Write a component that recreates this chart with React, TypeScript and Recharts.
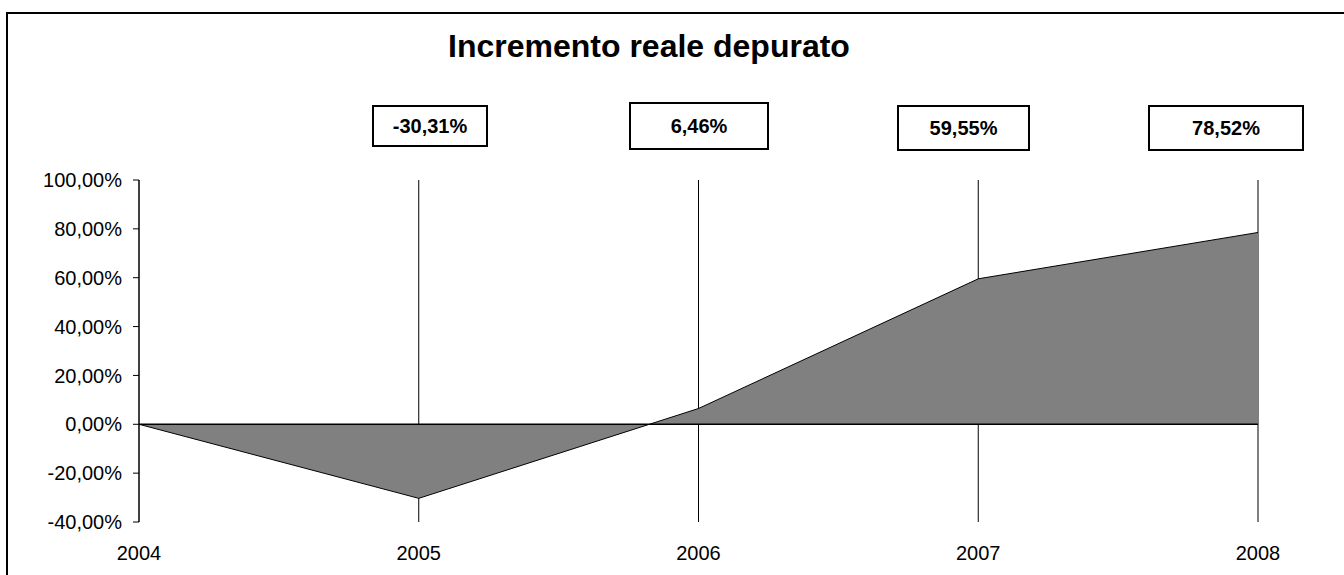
import { AreaChart, Area, XAxis, YAxis, CartesianGrid, ReferenceLine } from 'recharts';

const years = ['2004', '2005', '2006', '2007', '2008'];
const increments = [0, -30.31, 6.46, 59.55, 78.52];
const yTicks = [-40, -20, 0, 20, 40, 60, 80, 100];

// label boxes for 2005..2008 (page coords)
const boxLayout = [
    { left: 372, top: 105, width: 116, height: 42 },
    { left: 629, top: 102, width: 140, height: 48 },
    { left: 897, top: 105, width: 133, height: 46 },
    { left: 1148, top: 105, width: 156, height: 46 },
];

const data = years.map((y, i) => ({ year: y, v: increments[i] }));

const pct = (v: number) => v.toFixed(2).replace('.', ',') + '%';

const font = '"Liberation Sans", Arial, sans-serif';

export default function App() {
    return (
        <div style={{ position: 'fixed', left: 0, top: 0, width: 1344, height: 575, overflow: 'hidden', background: '#fff', fontFamily: font }}>
            <div style={{ position: 'absolute', left: 6, top: 12, width: 1400, height: 600, border: '2px solid #000' }}>
                <AreaChart
                    width={1400}
                    height={600}
                    data={data}
                    margin={{ top: 166, right: 150, bottom: 62, left: 0 }}
                >
                    <CartesianGrid horizontal={false} stroke="#000" strokeWidth={1} />
                    <XAxis
                        dataKey="year"
                        axisLine={false}
                        tickLine={false}
                        tickSize={0}
                        tickMargin={24}
                        height={30}
                        tick={{ fill: '#000', fontSize: 20, fontFamily: font }}
                    />
                    <YAxis
                        domain={[-40, 100]}
                        ticks={yTicks}
                        interval={0}
                        width={131}
                        tickFormatter={pct}
                        tickSize={6}
                        tickMargin={11}
                        axisLine={{ stroke: '#000' }}
                        tickLine={{ stroke: '#000' }}
                        tick={{ fill: '#000', fontSize: 20, fontFamily: font }}
                    />
                    <Area
                        type="linear"
                        dataKey="v"
                        fill="#808080"
                        fillOpacity={1}
                        stroke="#000"
                        strokeWidth={1}
                        dot={false}
                        activeDot={false}
                        isAnimationActive={false}
                    />
                    <ReferenceLine y={0} stroke="#000" strokeWidth={1.5} />
                </AreaChart>
            </div>
            <div
                style={{
                    position: 'absolute',
                    left: 448,
                    top: 30,
                    fontSize: 32,
                    lineHeight: 1,
                    fontWeight: 'bold',
                    whiteSpace: 'nowrap',
                    color: '#000',
                }}
            >
                Incremento reale depurato
            </div>
            {boxLayout.map((b, i) => (
                <div
                    key={i}
                    style={{
                        position: 'absolute',
                        left: b.left,
                        top: b.top,
                        width: b.width,
                        height: b.height,
                        boxSizing: 'border-box',
                        border: '2px solid #000',
                        display: 'flex',
                        alignItems: 'center',
                        justifyContent: 'center',
                        fontSize: 20,
                        fontWeight: 'bold',
                        color: '#000',
                    }}
                >
                    {pct(increments[i + 1])}
                </div>
            ))}
        </div>
    );
}
